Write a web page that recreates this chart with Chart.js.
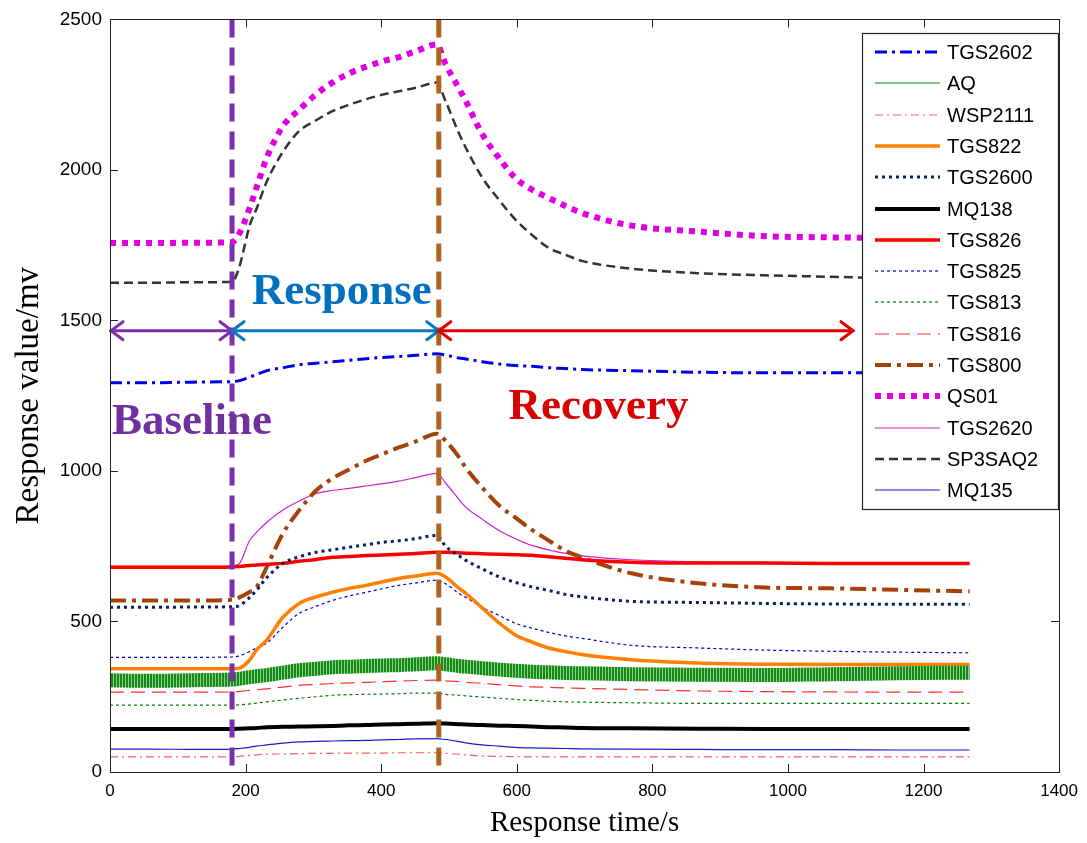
<!DOCTYPE html>
<html><head><meta charset="utf-8">
<script src="https://cdn.jsdelivr.net/npm/chart.js@4.4.0/dist/chart.umd.min.js"></script>
<style>html,body{margin:0;padding:0;background:#fff;}#wrap{width:1087px;height:843px;}</style>
</head><body><div id="wrap"><canvas id="c" width="1087" height="843"></canvas></div>
<script>
// ---- data ----
const times = [0,60,120,180,191,206,216,231,255,279,304,328,353,378,402,426,451,482,495,515,525,549,574,598,622,647,672,696,769,868,966,1063,1165,1268];
const TGS2602 = [1293,1293,1295,1297,1300,1312,1320,1333,1343,1353,1358,1363,1368,1373,1377,1380,1384,1389,1385,1375,1372,1363,1355,1350,1348,1343,1340,1337,1333,1328,1326,1326,1326,1326];
const AQ      = [305,303,305,307,310,315,318,322,330,338,343,348,350,352,354,355,358,361,358,352,350,345,340,336,333,331,329,328,325,323,322,325,328,330];
const WSP2111 = [50,50,50,50,52,55,57,59,60,61,62,62,63,63,63,64,64,64,62,59,57,53,52,51,50,50,50,50,50,50,50,50,50,50];
const TGS822  = [343,343,343,343,345,372,405,438,514,560,582,597,610,620,632,643,651,660,648,610,593,545,495,455,432,412,400,390,373,362,358,357,357,357];
const TGS2600 = [547,547,548,549,553,580,603,645,693,715,730,738,747,755,763,768,775,786,750,718,703,675,648,630,615,603,590,582,567,563,560,558,557,557];
const MQ138   = [143,143,143,143,144,145,146,149,150,151,152,153,155,156,158,159,160,162,161,159,158,156,154,153,151,149,148,146,145,144,143,143,143,143];
const TGS826  = [680,680,680,681,683,686,688,690,693,700,706,713,716,719,721,723,726,730,730,728,727,725,723,722,720,715,710,705,697,694,694,693,693,693];
const TGS825  = [381,381,381,382,386,400,412,428,481,527,550,570,585,597,609,620,628,637,625,593,580,547,520,494,478,464,452,444,421,412,405,401,398,396];
const TGS813  = [222,222,222,222,223,226,229,233,239,245,250,255,257,258,259,260,262,262,258,255,253,249,245,241,238,235,233,232,230,228,228,228,228,228];
const TGS816  = [265,265,265,266,268,271,273,276,282,288,291,294,296,298,300,302,304,305,303,300,298,295,290,286,283,281,279,278,274,269,267,266,265,265];
const TGS800  = [570,570,570,572,580,598,613,680,792,869,935,975,1005,1034,1056,1078,1098,1124,1100,1045,1010,945,885,845,805,769,735,713,660,627,613,610,605,600];
const QS01    = [1757,1757,1758,1760,1790,1873,1940,2039,2145,2200,2251,2290,2321,2343,2361,2375,2394,2417,2351,2270,2228,2119,2039,1973,1935,1907,1880,1857,1815,1795,1780,1776,1774,1772];
const TGS2620 = [683,683,683,684,693,769,796,829,870,900,925,935,942,950,958,966,978,992,960,905,879,840,802,775,753,738,726,718,705,698,696,695,694,693];
const SP3SAQ2 = [1625,1625,1627,1628,1680,1815,1870,1960,2060,2129,2165,2195,2217,2235,2250,2261,2273,2290,2228,2120,2073,1975,1900,1835,1785,1741,1718,1698,1672,1657,1650,1645,1640,1638];
const MQ135   = [76,76,75,76,78,82,86,90,96,100,102,103,104,105,107,108,110,111,108,101,97,90,86,82,80,79,78,77,76,75,74,74,73,73];

const seriesNames = ['TGS2602','AQ','WSP2111','TGS822','TGS2600','MQ138','TGS826','TGS825','TGS813','TGS816','TGS800','QS01','TGS2620','SP3SAQ2','MQ135'];
const seriesValues = [TGS2602,AQ,WSP2111,TGS822,TGS2600,MQ138,TGS826,TGS825,TGS813,TGS816,TGS800,QS01,TGS2620,SP3SAQ2,MQ135];
const xTicks = [0,200,400,600,800,1000,1200,1400];
const yTicks = [0,500,1000,1500,2000,2500];
const phaseBounds = [180, 485];
const phaseArrowLevel = 1466;
const recoveryArrowEnd = 1096;
const phaseLabels = ['Baseline','Response','Recovery'];

// ---- styles ----
const styles = {
  TGS2602:{color:'#0000ee', width:3, dash:[12,5,3,5]},
  AQ:{color:'#008a00', width:1, dash:[]},
  WSP2111:{color:'#ff5a5a', width:1.2, dash:[8,4,2,4]},
  TGS822:{color:'#ff8000', width:3.5, dash:[]},
  TGS2600:{color:'#0b1f5e', width:3, dash:[3,4]},
  MQ138:{color:'#000000', width:4, dash:[]},
  TGS826:{color:'#ff0000', width:3.5, dash:[]},
  TGS825:{color:'#0000cc', width:1.2, dash:[3,3]},
  TGS813:{color:'#008000', width:1.2, dash:[3,3]},
  TGS816:{color:'#ff3030', width:1.2, dash:[14,7]},
  TGS800:{color:'#a5420a', width:4, dash:[16,6,4,6]},
  QS01:{color:'#e000e0', width:6, dash:[6,6]},
  TGS2620:{color:'#cc22cc', width:1.2, dash:[]},
  SP3SAQ2:{color:'#333333', width:2.5, dash:[9,5]},
  MQ135:{color:'#1a1acc', width:1.2, dash:[]}
};

const canvas = document.getElementById('c');
const ctx = canvas.getContext('2d');
function stripePattern(color, gap){
  const p = document.createElement('canvas'); p.width = 3; p.height = 16;
  const g = p.getContext('2d');
  g.fillStyle = gap; g.fillRect(0,0,3,16);
  g.fillStyle = color; g.fillRect(0,0,2,16);
  return ctx.createPattern(p,'repeat');
}

const datasets = seriesNames.map((name,i)=>{
  const st = styles[name];
  const isBand = name === 'AQ';
  return {
    label:name,
    data: times.map((t,k)=>({x:t, y:seriesValues[i][k]})),
    borderColor: isBand ? stripePattern('#138a13', '#8fcf8f') : st.color,
    borderWidth: isBand ? 14 : st.width,
    borderDash: st.dash,
    borderCapStyle: 'butt',
    pointRadius:0, fill:false,
    cubicInterpolationMode:'monotone'
  };
});

const SANS = 'Arial, "Liberation Sans", sans-serif';
const SERIF = '"Times New Roman", "Liberation Serif", serif';

function arrow(c, x1, x2, y, color){
  c.save();
  c.strokeStyle = color; c.lineWidth = 3; c.setLineDash([]); c.lineCap='round';
  c.beginPath(); c.moveTo(x1,y); c.lineTo(x2,y); c.stroke();
  c.beginPath();
  c.moveTo(x1+12,y-9); c.lineTo(x1,y); c.lineTo(x1+12,y+9);
  c.moveTo(x2-12,y-9); c.lineTo(x2,y); c.lineTo(x2-12,y+9);
  c.stroke();
  c.restore();
}

const overlay = {
  id:'overlay',
  afterDatasetsDraw(chart){
    const c = chart.ctx, ca = chart.chartArea, x = chart.scales.x, y = chart.scales.y;
    c.save();
    const bColors = ['#7b2fa8','#b0601a'];
    phaseBounds.forEach((b,i)=>{
      const px = x.getPixelForValue(b);
      c.strokeStyle = bColors[i]; c.lineWidth = 5; c.setLineDash([18,10]);
      c.beginPath(); c.moveTo(px, ca.top); c.lineTo(px, ca.bottom); c.stroke();
    });
    c.setLineDash([]);
    const ay = y.getPixelForValue(phaseArrowLevel);
    arrow(c, x.getPixelForValue(0)+1, x.getPixelForValue(phaseBounds[0]), ay, '#7b2fa8');
    arrow(c, x.getPixelForValue(phaseBounds[0]), x.getPixelForValue(phaseBounds[1]), ay, '#0a78c0');
    arrow(c, x.getPixelForValue(phaseBounds[1]), x.getPixelForValue(recoveryArrowEnd), ay, '#e00000');
    c.font = 'bold 45px ' + SERIF; c.textBaseline = 'alphabetic'; c.textAlign = 'left';
    const lab = [[3,1124,'#7030a0'],[209,1555,'#0070c0'],[588,1174,'#d80000']];
    phaseLabels.forEach((t,i)=>{
      c.fillStyle = lab[i][2];
      c.fillText(t, x.getPixelForValue(lab[i][0]), y.getPixelForValue(lab[i][1]));
    });
    c.strokeStyle = '#222'; c.lineWidth = 1;
    c.strokeRect(Math.round(ca.left)+0.5, Math.round(ca.top)+0.5, Math.round(ca.right-ca.left), Math.round(ca.bottom-ca.top));
    c.beginPath();
    xTicks.forEach(v=>{
      const px = Math.round(x.getPixelForValue(v))+0.5;
      c.moveTo(px, ca.bottom); c.lineTo(px, ca.bottom-8);
      c.moveTo(px, ca.top); c.lineTo(px, ca.top+8);
    });
    yTicks.forEach(v=>{
      const py = Math.round(y.getPixelForValue(v))+0.5;
      c.moveTo(ca.left, py); c.lineTo(ca.left+8, py);
      c.moveTo(ca.right, py); c.lineTo(ca.right-8, py);
    });
    c.stroke();
    const lx = 862, ly = 33, lw = 196, lh = 476;
    c.fillStyle = '#fff'; c.fillRect(lx, ly, lw, lh);
    c.strokeStyle = '#222'; c.lineWidth = 1.2; c.strokeRect(lx+0.5, ly+0.5, lw, lh);
    c.font = '20px ' + SANS; c.textBaseline = 'middle'; c.fillStyle = '#000';
    seriesNames.forEach((n,i)=>{
      const st = styles[n];
      const ry = Math.round(52 + i*31.3);
      c.strokeStyle = st.color; c.lineWidth = st.width; c.setLineDash(st.dash); c.lineCap = 'butt';
      c.beginPath(); c.moveTo(875, ry); c.lineTo(940, ry); c.stroke();
      c.setLineDash([]);
      c.fillText(n, 947, ry+1);
    });
    c.restore();
  }
};

new Chart(ctx, {
  type:'line',
  data:{datasets},
  options:{
    responsive:false, animation:false, devicePixelRatio:1,
    layout:{padding:{top:18,right:25,left:0,bottom:0}},
    plugins:{legend:{display:false}, tooltip:{enabled:false}},
    scales:{
      x:{type:'linear', min:0, max:1400,
        afterBuildTicks(s){ s.ticks = xTicks.map(v=>({value:v})); },
        afterFit(s){ s.height = 71; },
        grid:{display:false, drawTicks:false}, border:{display:false},
        ticks:{font:{family:SANS,size:17}, color:'#000', padding:9, maxRotation:0, autoSkip:false, callback:v=>String(v)},
        title:{display:true, text:'Response time/s', color:'#000', font:{family:SERIF,size:29}, padding:{top:0,bottom:2}}
      },
      y:{type:'linear', min:0, max:2500,
        afterBuildTicks(s){ s.ticks = yTicks.map(v=>({value:v})); },
        afterFit(s){ s.width = 110; },
        grid:{display:false, drawTicks:false}, border:{display:false},
        ticks:{font:{family:SANS,size:19}, color:'#000', padding:8, autoSkip:false, callback:v=>String(v)},
        title:{display:true, text:'Response value/mv', color:'#000', font:{family:SERIF,size:33}, padding:{top:10,bottom:0}}
      }
    }
  },
  plugins:[overlay]
});
</script></body></html>
